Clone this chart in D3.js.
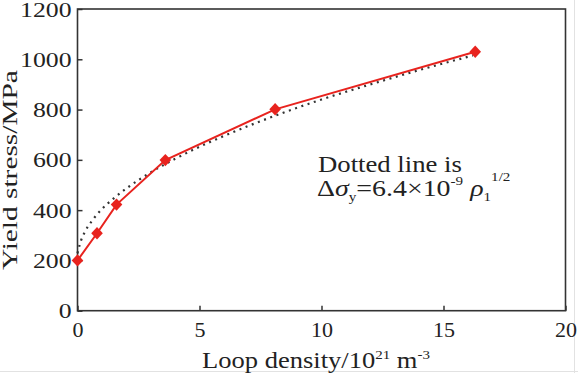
<!DOCTYPE html>
<html><head><meta charset="utf-8">
<script src="https://cdn.jsdelivr.net/npm/d3@7"></script>
<style>
body{margin:0;background:#fff}
svg{display:block}
text{font-family:"Liberation Serif","Times New Roman",serif;fill:#222}
</style>
</head><body><svg id="c" width="578" height="373"></svg>
<script>
const densities   = [0, 0.8, 1.6, 3.6, 8.1, 16.3];
const yieldStress = [200, 308, 422, 599, 801, 1030];
// Dotted line points
const fitDensity = [0, 0.1, 0.3, 0.6, 1, 1.5, 2, 3, 4, 5, 6, 8, 10, 12, 14, 16.2];
const fitStress  = [228, 266, 313, 358, 404, 448, 486, 550, 604, 652, 695, 772, 840, 900, 957, 1015];
const xTicks = [0, 5, 10, 15, 20];
const yTicks = [0, 200, 400, 600, 800, 1000, 1200];

const W = 578, H = 373;
const m = {left: 77.5, right: 12.5, top: 9, bottom: 62.3};
const svg = d3.select("#c");
svg.append("rect").attr("width", W).attr("height", H).attr("fill", "#fff");
// faint outer edge
svg.append("line").attr("x1", 574.5).attr("x2", 574.5).attr("y1", 0).attr("y2", H).attr("stroke", "#e2e2e2");
svg.append("line").attr("x1", 0).attr("x2", W).attr("y1", 371.5).attr("y2", 371.5).attr("stroke", "#e2e2e2");

const x = d3.scaleLinear().domain([0, 20]).range([m.left, W - m.right]);
const y = d3.scaleLinear().domain([0, 1200]).range([H - m.bottom, m.top]);

const axisColor = "#333";
// x axis (ticks inward)
const gx = svg.append("g").attr("transform", `translate(0,${y(0)})`)
  .call(d3.axisBottom(x).tickValues(xTicks).tickSize(-5).tickPadding(11).tickFormat(d3.format("d")));
// y axis
const gy = svg.append("g").attr("transform", `translate(${x(0)},0)`)
  .call(d3.axisLeft(y).tickValues(yTicks).tickSize(-5).tickPadding(6).tickFormat(d3.format("d")));
[gx, gy].forEach(g => {
  g.select(".domain").remove();
  g.selectAll(".tick line").attr("stroke", axisColor).attr("stroke-width", 1.5);
  g.selectAll(".tick text").attr("font-size", 22).attr("font-family", '"Liberation Serif",serif').attr("fill", "#222");
});
gx.selectAll(".tick text").attr("dy", "0.71em");
// widen y tick labels, anchored at their right end
gy.selectAll(".tick text").each(function() {
  const t = d3.select(this);
  const tx = +t.attr("x");
  t.attr("transform", `translate(${tx},0) scale(1.17,1) translate(${-tx},0)`);
});
// frame
svg.append("rect").attr("x", x(0)).attr("y", y(1200))
  .attr("width", x(20) - x(0)).attr("height", y(0) - y(1200))
  .attr("fill", "none").attr("stroke", axisColor).attr("stroke-width", 1.6);

// dotted fit line
const fitPts = fitDensity.map((d, i) => [d, fitStress[i]]);
svg.append("path").datum(fitPts)
  .attr("d", d3.line().x(d => x(d[0])).y(d => y(d[1])).curve(d3.curveMonotoneX))
  .attr("fill", "none").attr("stroke", "#333").attr("stroke-width", 2.2)
  .attr("stroke-dasharray", "2,4.6");

// measured line
const red = "#e8231e";
const pts = densities.map((d, i) => [d, yieldStress[i]]);
svg.append("path").datum(pts)
  .attr("d", d3.line().x(d => x(d[0])).y(d => y(d[1])))
  .attr("fill", "none").attr("stroke", red).attr("stroke-width", 2);
const diamond = {draw(ctx, size) { const w = 5.8, h = 6.2; ctx.moveTo(0, -h); ctx.lineTo(w, 0); ctx.lineTo(0, h); ctx.lineTo(-w, 0); ctx.closePath(); }};
svg.append("g").selectAll("path").data(pts).join("path")
  .attr("transform", d => `translate(${x(d[0])},${y(d[1])})`)
  .attr("d", d3.symbol().type(diamond)())
  .attr("fill", red);

function stretch(sel, target) {
  const len = sel.node().getComputedTextLength();
  return target / len;
}

// y axis title
const yt = svg.append("text").attr("font-size", 21).attr("text-anchor", "middle")
  .text("Yield stress/MPa");
const sy = stretch(yt, 200);
yt.attr("transform", `translate(17,170) rotate(-90) scale(${sy},1)`);

// x axis title
const xt = svg.append("text").attr("font-size", 23).attr("text-anchor", "start");
xt.append("tspan").text("Loop density/10");
xt.append("tspan").attr("font-size", 13).attr("dy", -9).text("21");
xt.append("tspan").attr("dy", 9).text(" m");
xt.append("tspan").attr("font-size", 13).attr("dy", -9).text("-3");
const sx = stretch(xt, 228);
xt.attr("transform", `translate(202,368) scale(${sx},1)`);

// annotation
const a1 = svg.append("text").attr("font-size", 24).text("Dotted line is");
const s1 = stretch(a1, 144);
a1.attr("transform", `translate(318,171.5) scale(${s1},1)`);

const a2 = svg.append("text").attr("font-size", 24);
a2.append("tspan").text("Δ");
a2.append("tspan").attr("font-style", "italic").text("σ");
a2.append("tspan").attr("font-size", 13).attr("dy", 5).text("y");
a2.append("tspan").attr("dy", -5).text("=6.4×10");
a2.append("tspan").attr("font-size", 13).attr("dy", -11).text("-9");
a2.append("tspan").attr("dy", 11).text(" ");
a2.append("tspan").attr("font-style", "italic").text("ρ");
a2.append("tspan").attr("font-size", 13).attr("dy", 5).text("1");
a2.append("tspan").attr("font-size", 13).attr("dy", -20).text("1/2");
const s2 = stretch(a2, 193);
a2.attr("transform", `translate(317,196) scale(${s2},1)`);
</script>
</body></html>
